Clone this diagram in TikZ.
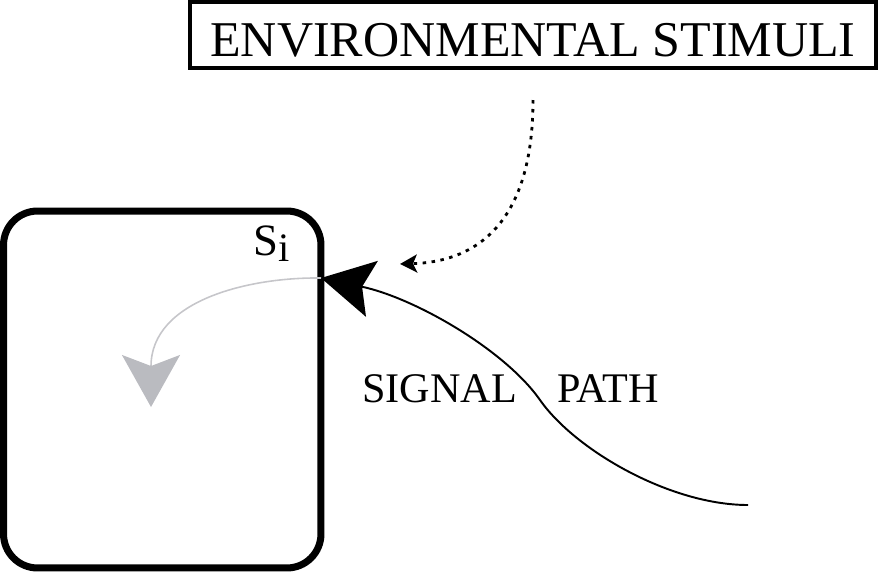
\documentclass[tikz,border=0pt]{standalone}
\usepackage{fontspec}
\setmainfont{Liberation Serif}
\usetikzlibrary{arrows.meta}
\definecolor{tipgray}{RGB}{186,187,192}
\definecolor{linegray}{RGB}{198,198,202}

\begin{document}
\begin{tikzpicture}[x=0.02cm,y=-0.02cm,
    stimbox/.style={draw,line width=2.5pt,minimum width=13.72cm,minimum height=1.32cm,
                    inner sep=0pt,text height=0.88cm,text depth=0pt,
                    font=\fontsize{28.5}{30}\selectfont},
    cellbox/.style={draw,line width=4pt,rounded corners=0.68cm,
                    minimum width=6.35cm,minimum height=7.14cm},
    pathtext/.style={anchor=base west,inner sep=0pt,font=\fontsize{24}{26}\selectfont},
    bigtip/.style={-{Stealth[length=1.04cm,width=1.14cm,inset=0.2cm]}},
    smalltip/.style={-{Stealth[length=0.34cm,width=0.36cm,inset=0.08cm]}}
   ]
    \useasboundingbox (0,0) rectangle (879,575);

    \node[stimbox] (stimuli) at (533,35) {ENVIRONMENTAL STIMULI};
    \node[cellbox] (cell) at (162.25,389.5) {};
    \node[anchor=base west,inner sep=0pt,font=\fontsize{25.5}{27}\selectfont] (si) at (253,255)
      {S{\fontsize{23}{25}\selectfont\raisebox{-0.12cm}{i}}};
    \node[pathtext] (signal) at (362,402) {SIGNAL};
    \node[pathtext] (pathword) at (557,402) {PATH};

    \coordinate (entry) at (321,278);
    \coordinate (inner) at (151,407);
    \coordinate (sigstart) at (748,505);
    \coordinate (dotstart) at (533,100);
    \coordinate (dotend) at (400,264);

    \draw[bigtip,line width=1.1pt] (sigstart)
      .. controls (670,505) and (575,450) .. (540,400)
      .. controls (505,350) and (415,298) .. (entry);
    \draw[-{Stealth[length=1.04cm,width=1.16cm,inset=0.22cm,color=tipgray]},
          draw=linegray,line width=0.9pt] (entry)
      .. controls (250,277) and (151,300) .. (inner);
    \draw[smalltip,line width=1.6pt,dash pattern=on 0.07cm off 0.11cm] (dotstart)
      .. controls (533,230) and (470,262) .. (dotend);
\end{tikzpicture}
\end{document}
